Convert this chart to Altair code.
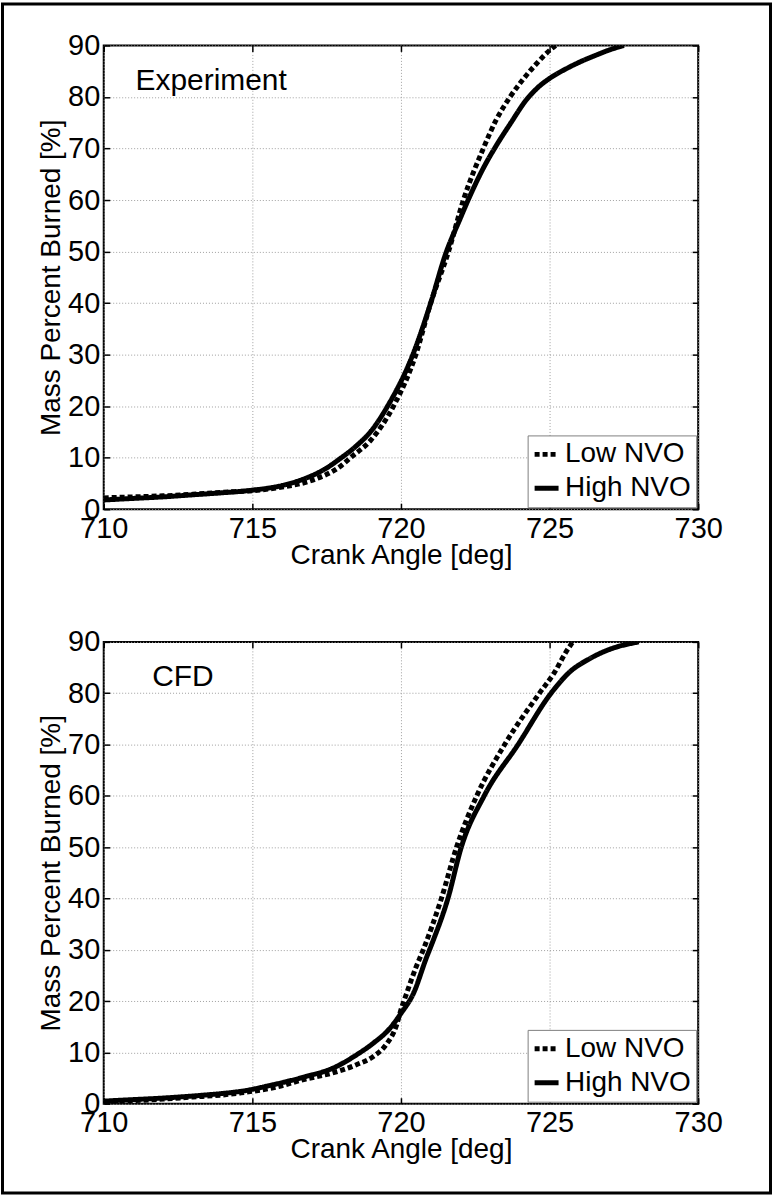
import altair as alt
import pandas as pd

# ---------------- data ----------------
series_names = ["Low NVO", "High NVO"]
x_ticks = [710, 715, 720, 725, 730]
y_ticks = [0, 10, 20, 30, 40, 50, 60, 70, 80, 90]

# Experiment panel
exp_low_ca = [710, 711, 712, 713, 714, 715, 716, 717, 718, 718.3, 719, 719.75,
              720.5, 721.0, 721.6, 722.1, 722.77, 723.2, 723.67, 724.05, 724.55,
              725.05, 725.2]
exp_low_mbf = [2.2, 2.4, 2.6, 2.9, 3.3, 3.6, 4.3, 5.6, 8.5, 10, 13.5, 20,
               30, 40, 50, 60, 70, 75.5, 80, 83.0, 86.4, 89.3, 90]
exp_high_ca = [710, 711, 712, 713, 714, 715, 716, 716.5, 717, 717.5, 717.9, 718.5,
               719.0, 719.55, 720.4, 721.0, 721.5, 722.0, 722.26, 722.8, 723.2, 723.7,
               724.2, 724.6, 725.0, 725.6, 726.1, 726.6, 727.0, 727.5]
exp_high_mbf = [1.8, 2.1, 2.4, 2.8, 3.2, 3.7, 4.6, 5.4, 6.5, 8.0, 9.6, 12.3,
                15.2, 20, 30, 40, 49.5, 56.5, 60, 66.5, 70.5, 75,
                79.3, 81.8, 83.6, 85.6, 87.0, 88.2, 89.1, 90]

# CFD panel
cfd_low_ca = [710, 711, 712, 713, 714, 714.6, 715.7, 716.8, 717.7, 718.5, 719.07,
              719.5, 719.85, 720.0, 720.19, 720.5, 720.75, 721.36, 721.87, 722.55,
              723.49, 724.66, 725.17, 725.56, 725.78]
cfd_low_mbf = [0.4, 0.6, 0.9, 1.3, 1.7, 2.1, 3.1, 4.8, 6.0, 7.6, 9.2,
               11.5, 15.3, 18.3, 21.5, 26.5, 30, 40, 50, 60,
               70, 80, 84.1, 88.1, 90]
cfd_high_ca = [710, 711, 712, 713, 714, 714.6, 715.7, 716.8, 717.7, 718.5, 719.07,
               719.63, 720.0, 720.42, 720.86, 721.03, 721.58, 722.03, 722.8, 723.94,
               725.05, 725.67, 726.34, 727.0, 728.0]
cfd_high_mbf = [0.5, 0.8, 1.1, 1.5, 2.0, 2.4, 3.7, 5.3, 6.9, 9.5, 11.8,
                14.7, 17.6, 21.5, 28.5, 31, 40, 50, 60, 70,
                80, 84.1, 86.7, 88.5, 90]

panel_labels = ["Experiment", "CFD"]
panel_label_ca = [711.07, 711.63]
panel_label_mbf = [81.4, 81.5]

# ---------------- layout / style ----------------
FONT = "Liberation Sans"
W = 596
H_TOP = 465
H_BOT = 463


def tick_axis(orient, offset):
    # inward-pointing MATLAB-style ticks: an axis moved onto the opposite edge
    return alt.Axis(orient=orient, offset=offset,
                    values=x_ticks if orient in ("top", "bottom") else y_ticks,
                    labels=False, domain=False, grid=False, ticks=True, tickSize=6,
                    tickWidth=1.5, tickColor="black", title=None)


def panel(low_ca, low_mbf, high_ca, high_mbf, label, lca, lmbf, h, with_frame):
    low = pd.DataFrame({"ca": low_ca, "mbf": low_mbf, "series": series_names[0]})
    high = pd.DataFrame({"ca": high_ca, "mbf": high_mbf, "series": series_names[1]})
    xscale = alt.Scale(domain=[710, 730], nice=False, zero=False)
    yscale = alt.Scale(domain=[0, 90], nice=False, zero=False)
    dash = alt.StrokeDash(
        "series:N",
        scale=alt.Scale(domain=series_names, range=[[5, 3], [1, 0]]),
        legend=alt.Legend(title=None),
    )
    l1 = alt.Chart(low).mark_line(strokeWidth=5, color="black", clip=True,
                                  interpolate="monotone").encode(
        x=alt.X("ca:Q", scale=xscale,
                axis=alt.Axis(values=x_ticks, title="Crank Angle [deg]", grid=True,
                              ticks=False, domain=False, labelFlush=False,
                              labelPadding=5, titlePadding=-2, format="d")),
        y=alt.Y("mbf:Q", scale=yscale,
                axis=alt.Axis(values=y_ticks, title="Mass Percent Burned [%]", grid=True,
                              ticks=False, domain=False, labelFlush=False,
                              labelPadding=4, titlePadding=2, format="d")),
        strokeDash=dash,
    )
    l2 = alt.Chart(high).mark_line(strokeWidth=5, color="black", clip=True,
                                   interpolate="monotone").encode(
        x=alt.X("ca:Q", scale=xscale, axis=tick_axis("top", -h)),
        y=alt.Y("mbf:Q", scale=yscale, axis=tick_axis("right", -W)),
        strokeDash=dash,
    )
    txt_df = pd.DataFrame({"ca": [lca], "mbf": [lmbf], "label": [label]})
    txt = alt.Chart(txt_df).mark_text(align="left", baseline="alphabetic", fontSize=30,
                                      font=FONT, color="black").encode(
        x=alt.X("ca:Q", scale=xscale, axis=tick_axis("bottom", -h)),
        y=alt.Y("mbf:Q", scale=yscale, axis=tick_axis("left", -W)),
        text="label:N",
    )
    layers = [l1, l2, txt]
    if with_frame:
        frame = alt.Chart(pd.DataFrame({"f": [0]})).mark_rect(
            filled=False, stroke="black", strokeWidth=3).encode(
            x=alt.value(-101.5), x2=alt.value(668.5),
            y=alt.value(-41.5), y2=alt.value(1150.5))
        layers.append(frame)
    return alt.layer(*layers).resolve_axis(x="independent", y="independent").properties(
        width=W, height=h)


top = panel(exp_low_ca, exp_low_mbf, exp_high_ca, exp_high_mbf,
            panel_labels[0], panel_label_ca[0], panel_label_mbf[0], H_TOP, True)
bottom = panel(cfd_low_ca, cfd_low_mbf, cfd_high_ca, cfd_high_mbf,
               panel_labels[1], panel_label_ca[1], panel_label_mbf[1], H_BOT, False)

chart = alt.vconcat(top, bottom, spacing=133, bounds="flush").resolve_scale(
    strokeDash="independent", x="independent", y="independent"
).resolve_legend(strokeDash="independent").properties(
    padding=0, background="white"
).configure_view(
    stroke="black", strokeWidth=2
).configure_axis(
    labelFont=FONT, labelFontSize=29, labelColor="black",
    titleFont=FONT, titleFontSize=28, titleColor="black", titleFontWeight="normal",
    gridColor="#a0a0a0", gridDash=[1, 2], gridWidth=1,
).configure_legend(
    orient="bottom-right", offset=2, fillColor="white", strokeColor="#808080",
    padding=4.5, labelFont=FONT, labelFontSize=28, labelColor="black", labelLimit=0,
    symbolType="stroke", symbolSize=576, symbolStrokeWidth=5, symbolStrokeColor="black",
    rowPadding=5, labelOffset=4,
)

chart.save("out.html", embed_options={"renderer": "svg", "actions": False})
